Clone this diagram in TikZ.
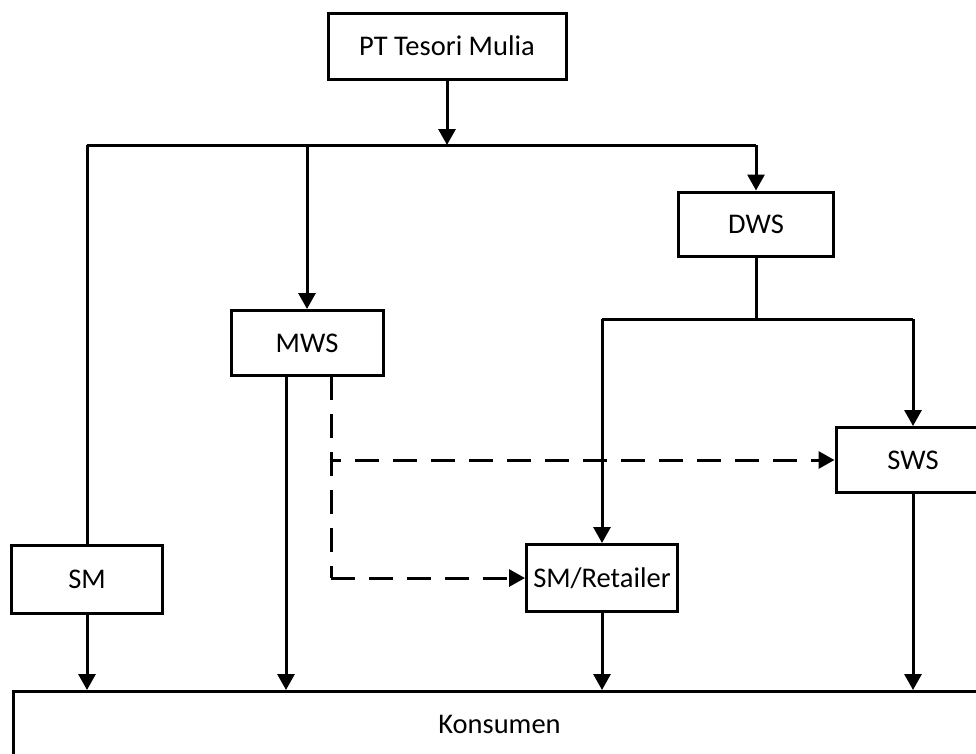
\documentclass[tikz,border=0pt]{standalone}
\usepackage{fontspec}
\setmainfont{Carlito}
\usetikzlibrary{arrows.meta}

\begin{document}
\begin{tikzpicture}[x=1pt, y=-1pt,
    box/.style={draw, line width=3pt, rectangle, inner sep=0pt, align=center,
      font=\fontsize{28.5}{32}\selectfont},
    link/.style={line width=3pt, -{Triangle[length=16pt, width=17pt]}},
    plain/.style={line width=3pt},
    dlink/.style={link, dash pattern=on 24pt off 14pt}]
  \useasboundingbox[fill=white] (0,0) rectangle (976,753);

  % boxes
  \node[box, minimum width=238, minimum height=66] (pt)   at (447,46)  {PT Tesori Mulia};
  \node[box, minimum width=155, minimum height=64] (dws)  at (756,224) {DWS};
  \node[box, minimum width=152, minimum height=65] (mws)  at (307,343) {MWS};
  \node[box, minimum width=154, minimum height=65] (sws)  at (913,460) {SWS};
  \node[box, minimum width=151, minimum height=68] (sm)   at (87,579)  {SM};
  \node[box, minimum width=151, minimum height=67] (smr)  at (602,578) {SM/Retailer};
  \node[box, minimum width=972, minimum height=66, anchor=north west] (kons) at (12,690) {Konsumen};

  % junctions
  \coordinate (top)  at (447,145);
  \coordinate (lft)  at (87,145);
  \coordinate (rgt)  at (756,145);
  \coordinate (mid)  at (307,145);
  \coordinate (dsp)  at (756,319);
  \coordinate (dl)   at (602,319);
  \coordinate (dr)   at (913,319);
  \coordinate (dash) at (331,376);
  \coordinate (dk)   at (331,578);
  \coordinate (dh)   at (331,460);

  \draw[link] (pt) -- (top);
  \draw[plain] (lft) -- (rgt);
  \draw[plain] (lft) -- (sm);
  \draw[link] (mid) -- (mws);
  \draw[link] (rgt) -- (dws);

  \draw[plain] (dws) -- (dsp);
  \draw[plain] (dl) -- (dr);
  \draw[link] (dl) -- (smr);
  \draw[link] (dr) -- (sws);

  % dashed lines from MWS
  \draw[plain, dash pattern=on 24pt off 14pt] (dash) -- (dk);
  \draw[dlink] (dk) -- (smr);
  \draw[dlink, dash phase=14pt] (dh) -- (sws);

  % into Konsumen
  \draw[link] (sm) -- (sm |- kons.north);
  \draw[link] (286,376) -- (286,690);
  \draw[link] (smr) -- (smr |- kons.north);
  \draw[link] (sws) -- (sws |- kons.north);
\end{tikzpicture}
\end{document}
